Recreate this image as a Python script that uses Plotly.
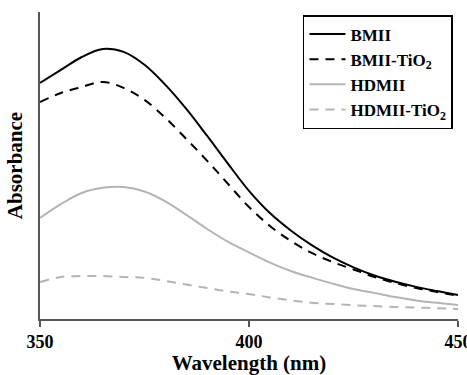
import plotly.graph_objects as go

wavelength = [350, 355, 360, 365, 370, 375, 380, 385, 390, 395, 400,
              405, 410, 415, 420, 425, 430, 435, 440, 445, 450]
bmii = [0.787, 0.830, 0.873, 0.900, 0.890, 0.847, 0.780, 0.700, 0.610, 0.517, 0.427,
        0.353, 0.295, 0.246, 0.205, 0.172, 0.145, 0.124, 0.107, 0.093, 0.080]
bmii_tio2 = [0.723, 0.753, 0.773, 0.790, 0.770, 0.730, 0.670, 0.600, 0.527, 0.450, 0.373,
             0.310, 0.260, 0.220, 0.190, 0.165, 0.140, 0.120, 0.103, 0.090, 0.077]
hdmii = [0.337, 0.383, 0.420, 0.437, 0.440, 0.425, 0.392, 0.347, 0.300, 0.257, 0.222,
         0.188, 0.160, 0.138, 0.118, 0.100, 0.087, 0.073, 0.062, 0.054, 0.047]
hdmii_tio2 = [0.123, 0.140, 0.143, 0.143, 0.140, 0.137, 0.127, 0.115, 0.103, 0.092, 0.083,
              0.072, 0.062, 0.054, 0.050, 0.046, 0.043, 0.040, 0.038, 0.036, 0.033]
x_ticks = [350, 400, 450]

FONT = "Liberation Serif"
fig = go.Figure()
series = [
    ("<b>BMII</b>", bmii, "black", "solid"),
    ("<b>BMII-TiO<sub>2</sub></b>", bmii_tio2, "black", "9px,7px"),
    ("<b>HDMII</b>", hdmii, "#b4b4b4", "solid"),
    ("<b>HDMII-TiO<sub>2</sub></b>", hdmii_tio2, "#b4b4b4", "9px,7px"),
]
for i, (name, ys, col, dash) in enumerate(series):
    fig.add_trace(go.Scatter(x=wavelength, y=ys, mode="lines", name=name,
                             legendgroup="g%d" % i,
                             line=dict(color=col, width=2, dash=dash, shape="spline")))

fig.update_layout(
    width=467, height=375,
    margin=dict(l=40, r=9, t=12, b=56),
    paper_bgcolor="white", plot_bgcolor="white",
    font=dict(family=FONT, color="black", size=16),
    showlegend=True,
    legend=dict(x=0.988, y=0.99, xanchor="right", yanchor="top",
                xref="paper", yref="paper",
                bgcolor="white", bordercolor="black", borderwidth=1.5,
                font=dict(family=FONT, size=17, color="black"),
                itemwidth=36, tracegroupgap=0),
    xaxis=dict(range=[350, 450], tickvals=x_ticks,
               ticktext=["<b>%d</b>" % v for v in x_ticks],
               ticklabeloverflow="allow", automargin=False,
               ticks="outside", ticklen=6, tickwidth=1.5, tickcolor="#555",
               showline=True, linecolor="#555", linewidth=1.5,
               showgrid=False, zeroline=False,
               tickfont=dict(family=FONT, size=18, color="black"),
               title=dict(text="<b>Wavelength (nm)</b>", standoff=4,
                          font=dict(family=FONT, size=21, color="black"))),
    yaxis=dict(range=[0, 1.023], showticklabels=False, ticks="",
               showline=True, linecolor="#555", linewidth=1.5,
               showgrid=False, zeroline=False, automargin=False,
               title=dict(text="<b>Absorbance</b>", standoff=10,
                          font=dict(family=FONT, size=21, color="black"))),
)
fig.write_html("out.html")
